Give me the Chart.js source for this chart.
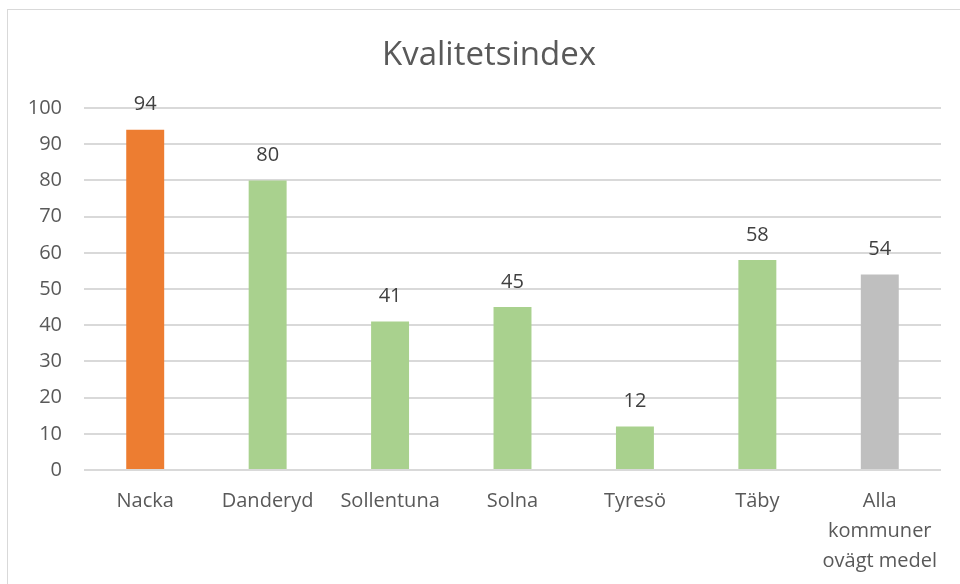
<!DOCTYPE html>
<html>
<head>
<meta charset="utf-8">
<script src="https://cdn.jsdelivr.net/npm/chart.js@4"></script>
<style>
  html, body { margin: 0; padding: 0; background: #fff; }
  #wrap { position: relative; width: 960px; height: 584px; overflow: hidden; }
  #frame { position: absolute; left: 7px; top: 9px; width: 1000px; height: 700px; border: 1px solid #D9D9D9; box-sizing: border-box; }
  canvas { position: absolute; left: 0; top: 0; }
</style>
</head>
<body>
<div id="wrap">
  <div id="frame"></div>
  <canvas id="c" width="960" height="584"></canvas>
</div>
<script>
const titleText = "Kvalitetsindex";
const categories = ["Nacka", "Danderyd", "Sollentuna", "Solna", "Tyresö", "Täby", ["Alla", "kommuner", "ovägt medel"]];
const values = [94, 80, 41, 45, 12, 58, 54];
const barColors = ["#ED7D31", "#A9D18E", "#A9D18E", "#A9D18E", "#A9D18E", "#A9D18E", "#BFBFBF"];
const yTicks = { min: 0, max: 100, step: 10 };

const FONT = "'Open Sans', sans-serif";
const TEXT = "#595959";

const valueLabels = {
  id: "valueLabels",
  afterDatasetsDraw(chart) {
    const ctx = chart.ctx;
    const meta = chart.getDatasetMeta(0);
    ctx.save();
    ctx.font = "20px " + FONT;
    ctx.fillStyle = "#404040";
    ctx.textAlign = "center";
    ctx.textBaseline = "middle";
    meta.data.forEach((bar, i) => {
      ctx.fillText(String(chart.data.datasets[0].data[i]), bar.x, bar.y - 25);
    });
    ctx.restore();
  }
};

const chartTitle = {
  id: "chartTitle",
  afterDraw(chart) {
    const ctx = chart.ctx;
    ctx.save();
    ctx.font = "33px " + FONT;
    ctx.fillStyle = TEXT;
    ctx.textAlign = "center";
    ctx.textBaseline = "middle";
    ctx.fillText(titleText, 489, 56);
    ctx.restore();
  }
};

new Chart(document.getElementById("c"), {
  type: "bar",
  data: {
    labels: categories,
    datasets: [{
      data: values,
      backgroundColor: barColors,
      borderWidth: 0,
      categoryPercentage: 1,
      barPercentage: 0.31
    }]
  },
  options: {
    responsive: false,
    animation: false,
    devicePixelRatio: 1,
    layout: { padding: { left: 0, right: 19, top: 108, bottom: 0 } },
    plugins: {
      legend: { display: false },
      tooltip: { enabled: false },
      title: { display: false }
    },
    scales: {
      x: {
        grid: { display: false, drawTicks: false },
        border: { display: false },
        ticks: {
          color: TEXT,
          font: { family: FONT, size: 20, lineHeight: 1.5 },
          padding: 16,
          maxRotation: 0,
          autoSkip: false
        },
        afterFit(scale) { scale.height = 114; }
      },
      y: {
        min: yTicks.min,
        max: yTicks.max,
        grid: { color: "#D9D9D9", lineWidth: 2, drawTicks: false },
        border: { display: false },
        ticks: {
          stepSize: yTicks.step,
          color: TEXT,
          font: { family: FONT, size: 20 },
          padding: 22
        },
        afterFit(scale) { scale.width = 84; }
      }
    }
  },
  plugins: [valueLabels, chartTitle]
});
</script>
</body>
</html>
